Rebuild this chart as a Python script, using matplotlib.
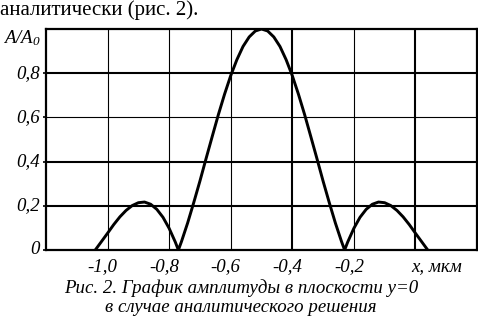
import matplotlib
matplotlib.use("Agg")
from matplotlib import pyplot as plt

plt.rcParams['font.family'] = ['Liberation Serif', 'DejaVu Serif']
plt.rcParams['mathtext.fontset'] = 'custom'
plt.rcParams['mathtext.rm'] = 'Liberation Serif:italic'
plt.rcParams['mathtext.it'] = 'Liberation Serif:italic'

# amplitude curve
x = [-1.04, -1.02, -1.00, -0.98, -0.96, -0.94, -0.92, -0.90, -0.88, -0.86,
     -0.84, -0.82, -0.80, -0.78, -0.77, -0.76, -0.74, -0.72, -0.70, -0.68,
     -0.66, -0.64, -0.62, -0.60, -0.58, -0.56, -0.54, -0.52, -0.50, -0.48,
     -0.46, -0.44, -0.42, -0.40, -0.38, -0.36, -0.34, -0.32, -0.30, -0.28,
     -0.26, -0.24, -0.23, -0.22, -0.20, -0.18, -0.16, -0.14, -0.12, -0.10,
     -0.08, -0.06, -0.04, -0.02, 0.00, 0.02, 0.04]
amp = [0.00, 0.038, 0.076, 0.115, 0.150, 0.179, 0.201, 0.214, 0.217, 0.207,
       0.184, 0.148, 0.098, 0.036, 0.00, 0.038, 0.122, 0.215, 0.312, 0.414,
       0.514, 0.613, 0.705, 0.789, 0.861, 0.921, 0.964, 0.991, 1.00, 0.991,
       0.964, 0.921, 0.861, 0.789, 0.705, 0.613, 0.514, 0.414, 0.312, 0.215,
       0.122, 0.038, 0.00, 0.036, 0.098, 0.148, 0.184, 0.207, 0.217, 0.214,
       0.201, 0.179, 0.150, 0.115, 0.076, 0.038, 0.00]

xgrid = [-1.0, -0.8, -0.6, -0.4, -0.2, 0.0]
xgrid_lw = [0.8, 0.8, 0.8, 1.5, 0.8, 1.5]
xlabels = ['-1,0', '-0,8', '-0,6', '-0,4', '-0,2']
ygrid = [0.2, 0.4, 0.6, 0.8]
ygrid_lw = [1.5, 1.5, 0.8, 1.5]
ylabels = ['0', '0,2', '0,4', '0,6', '0,8']

fig = plt.figure(figsize=(4.78, 3.2), dpi=100)
ax = fig.add_axes([46/478, 70/320, 431/478, 221/320])
ax.set_xlim(-1.2, 0.2)
ax.set_ylim(0, 1.0)

for xv, lw in zip(xgrid, xgrid_lw):
    ax.axvline(xv, color='black', lw=lw, zorder=1)
for yv, lw in zip(ygrid, ygrid_lw):
    ax.axhline(yv, color='black', lw=lw, zorder=1)

ax.plot(x, amp, color='black', lw=2.1, zorder=3)

for s in ax.spines.values():
    s.set_linewidth(1.6)

ax.set_xticks([])
ax.set_yticks([0, 0.2, 0.4, 0.6, 0.8])
ax.set_yticklabels([])
ax.tick_params(axis='y', length=2, width=1.2, direction='out')

fs = 13.6
for xv, lab in zip(xgrid[:-1], xlabels):
    fig.text((46 + (xv + 1.2) / 1.4 * 431 - 5) / 478, 1 - 267/320, lab,
             ha='center', va='center', fontsize=fs, style='italic')
fig.text(437/478, 1 - 267/320, 'x, мкм', ha='center', va='center',
         fontsize=fs, style='italic')

for i, lab in enumerate(ylabels):
    fig.text(40/478, (70 + i * 0.2 * 221) / 320, lab, ha='right', va='center',
             fontsize=fs, style='italic')
fig.text(41/478, 1 - 38/320, r'$A/A_0$', ha='right', va='center', fontsize=fs)

fig.text(0.0, 1 - 10/320, 'аналитически (рис. 2).', ha='left', va='center',
         fontsize=15)
fig.text(241/478, 1 - 288/320, 'Рис. 2. График амплитуды в плоскости y=0',
         ha='center', va='center', fontsize=fs, style='italic')
fig.text(241/478, 1 - 307/320, 'в случае аналитического решения',
         ha='center', va='center', fontsize=fs, style='italic')

fig.savefig('out.png', dpi=100)
